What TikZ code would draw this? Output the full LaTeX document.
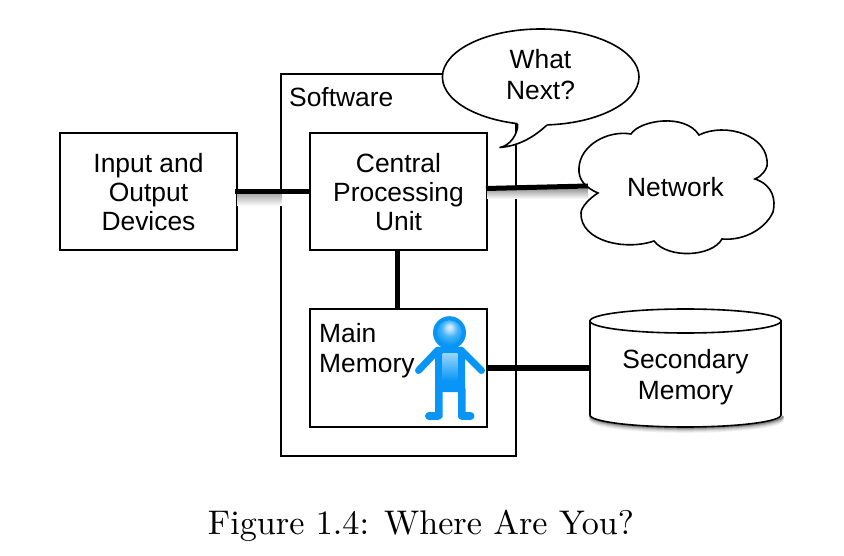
\documentclass[tikz,border=0pt]{standalone}
\usepackage{fontspec}
\usepackage{graphicx}
\newfontfamily\hv{Liberation Sans}
\usetikzlibrary{calc}
\definecolor{pblue}{HTML}{0895F5}
\definecolor{pcyan}{HTML}{45B4F8}
\pgfdeclareradialshading{headball}{\pgfpoint{0bp}{12bp}}{
  color(0bp)=(white!88!pblue); color(6bp)=(white!70!pblue); color(16bp)=(pcyan); color(30bp)=(pblue); color(50bp)=(pblue)}
\tikzset{
  box/.style={draw=black,line width=2pt,fill=white,inner sep=0pt},
  label/.style={inner sep=0pt,align=left,font=\hv\fontsize{26.4}{29}\selectfont},
  boxtext/.style={inner sep=0pt,align=center,font=\hv\fontsize{26.4}{29}\selectfont},
  plain/.style={inner sep=0pt,align=center,font=\hv\fontsize{26.4}{31}\selectfont},
  wire/.style={line width=5pt,black},
  outline/.style={draw=black,line width=1.6pt,fill=white},
  glow/.style={top color=black!35,bottom color=white,draw=none},
  limb/.style={pblue,line cap=round}
}
\begin{document}
\begin{tikzpicture}[x=1pt,y=-1pt]
\useasboundingbox[fill=white] (0,0) rectangle (844,556);
% boxes
\node[box,minimum width=235pt,minimum height=382pt] (soft) at (398.5,265) {};
\node[label,anchor=base west] (softlabel) at (289,107) {Software};
\node[box,minimum width=177pt,minimum height=117pt] (io) at (148.5,191.5) {};
\node[boxtext] (iotext) at (148.5,192.5) {Input and\\Output\\Devices};
\node[box,minimum width=177pt,minimum height=117pt] (cpu) at (398.5,191.5) {};
\node[boxtext] (cputext) at (398.5,192.5) {Central\\Processing\\Unit};
\node[box,minimum width=177pt,minimum height=118pt] (mem) at (398.5,368) {};
\node[label,anchor=base west,font=\hv\fontsize{26.4}{30}\selectfont] (memlabel) at (319,372) {Main\\[0pt]Memory};
% cloud
\coordinate (netport) at (598,193);
\path[outline] (netport)
  .. controls (586,188) and (578,180) .. (579,168)
  .. controls (580,145) and (608,130) .. (631,134)
  .. controls (640,120) and (685,113) .. (699,135)
  .. controls (725,122) and (770,135) .. (767,166)
  .. controls (766,170) and (762,176) .. (755,179)
  .. controls (773,185) and (776,200) .. (773,212)
  .. controls (766,228) and (745,241) .. (722,239)
  .. controls (712,257) and (668,259) .. (654,241)
  .. controls (625,251) and (580,241) .. (581,213)
  .. controls (581,207) and (590,198) .. (598,193) -- cycle;
\node[plain] (net) at (675.5,187) {Network};
% cylinder
\node[minimum width=191pt,minimum height=118pt,inner sep=0pt] (disk) at (685.5,368) {};
\foreach \d/\g in {5/6,4/12,3/20,2/32,1/45}
  \draw[line width=1.6pt,black!\g] (590,{415+\d}) .. controls (590,{421.6+\d}) and (632.8,{427+\d}) .. (685.5,{427+\d}) .. controls (738.2,{427+\d}) and (783,{421.6+\d}) .. (783,{415+\d});
\path[outline] (590,321) -- (590,415)
  .. controls (590,421.6) and (632.8,427) .. (685.5,427)
  .. controls (738.2,427) and (781,421.6) .. (781,415)
  -- (781,321) -- cycle;
\draw[outline] (685.5,321) ellipse[x radius=95.5,y radius=12];
\node[plain] (disktext) at (685.5,377) {Secondary\\Memory};
% connector shadows
\shade[glow] (237,193) rectangle (282,206);
\shade[glow] (487,190) rectangle (588,199);
% connectors
\coordinate (ioport) at ($(io.east)+(-3,0)$);
\coordinate (cpuportr) at ($(cpu.east)+(-2,-3)$);
\coordinate (cloudin) at ($(netport)+(-10,-7)$);
\draw[wire] (ioport) -- (cpu.west);
\draw[wire] (cpuportr) -- (cloudin);
\draw[wire] ($(cpu.south)+(-1,0)$) -- ($(mem.north)+(-1,0)$);
\draw[wire,line width=5.6pt] (mem.east) -- (disk.west);
% speech bubble
\coordinate (tip) at (499.5,147.5);
\draw[outline] (540.7,77) ellipse[x radius=98.3,y radius=48];
\fill[white] (517.7,120) -- (517.7,124) .. controls (518,134) and (510,146) .. (tip)
  .. controls (520,146) and (535,136) .. (547,125) -- (547,120) -- cycle;
\draw[line width=1.6pt,line join=miter] (517.7,124) .. controls (518,134) and (510,146) .. (tip)
  .. controls (520,146) and (535,136) .. (547,125);
\node[plain] (bubble) at (540.5,75) {What\\Next?};
% person
\begin{scope}
  \draw[limb,line width=7pt] (438,350) -- (418.5,370.5);
  \draw[limb,line width=7pt] (461,350) -- (481.5,370.5);
  \fill[pblue] (435,352) arc[start angle=180,end angle=270,radius=5] -- (458,347) arc[start angle=-90,end angle=0,radius=7] -- (465,392) -- (465,392) -- (435,392) -- cycle;
  \fill[pblue,rounded corners=1pt] (435,388) rectangle (442.5,418);
  \fill[pblue,rounded corners=1pt] (458,388) rectangle (465.5,418);
  \draw[limb,line width=8pt] (429,416) -- (438,416);
  \draw[limb,line width=8pt] (462,416) -- (470.5,416);
  \shade[top color=pcyan!55!white,bottom color=pblue] (442.5,353) rectangle (457.5,381);
  \fill[pblue] (449.5,332.7) circle[radius=16.5];
  \shade[shading=headball] (449.5,332.7) circle[radius=12.5];
\end{scope}
% caption
\node[inner sep=0pt,anchor=base] (caption) at (421,534) {\resizebox{426pt}{!}{\fontsize{10}{12}\selectfont Figure 1.4: Where Are You?}};
\end{tikzpicture}
\end{document}
